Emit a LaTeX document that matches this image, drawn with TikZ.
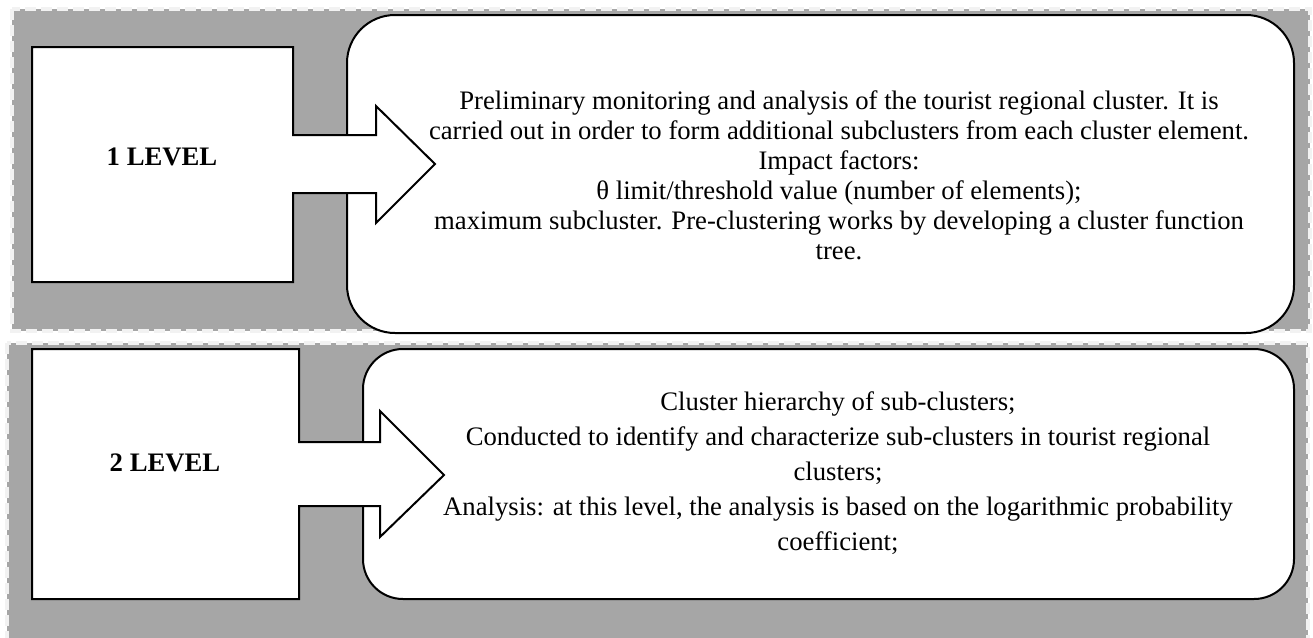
\documentclass[tikz,border=0pt]{standalone}
\usepackage{fontspec}
\setmainfont{Liberation Serif}
\begin{document}
\begin{tikzpicture}[x=1pt,y=-1pt,
  panel/.style={fill=panelgray,draw=dashgray,line width=3.5pt,dash pattern=on 11pt off 5pt},
  shapeline/.style={draw=black,fill=white,line width=2pt,line join=miter},
  body/.style={align=center,font=\fontsize{26.7}{30}\selectfont,inner sep=0pt},
  lvl/.style={font=\fontsize{26.7}{30}\selectfont\bfseries,inner sep=0pt}]
\definecolor{panelgray}{HTML}{A6A6A6}
\definecolor{dashgray}{HTML}{F2F2F2}
\useasboundingbox (0,0) rectangle (1313,637);
\begin{scope}
\clip (0,0) rectangle (1313,637);
% panels
\path[panel] (12,9) rectangle (1310,331);
\path[panel] (7,343) rectangle (1308,660);
% level 1
\draw[shapeline,rounded corners=48pt] (347,15) rectangle (1294,333);
\draw[shapeline] (32,47) -- (293,47) -- (293,135) -- (376,135) -- (376,106) -- (435,164)
  -- (376,223) -- (376,193) -- (293,193) -- (293,282) -- (32,282) -- cycle;
\node[lvl] (l1) at (162,157) {1 LEVEL};
\node[body] (t1) at (839,175) {Preliminary monitoring and analysis of the tourist regional cluster. It is\\
carried out in order to form additional subclusters from each cluster element.\\
Impact factors:\\
θ limit/threshold value (number of elements);\\
maximum subcluster. Pre-clustering works by developing a cluster function\\
tree.};
% level 2
\draw[shapeline,rounded corners=40pt] (363,349) rectangle (1294,599);
\draw[shapeline] (32,349) -- (299,349) -- (299,442) -- (380,442) -- (380,411) -- (444,475)
  -- (380,537) -- (380,506) -- (299,506) -- (299,599) -- (32,599) -- cycle;
\node[lvl] (l2) at (165,463) {2 LEVEL};
\node[body,font=\fontsize{26.7}{35}\selectfont] (t2) at (838,473) {Cluster hierarchy of sub-clusters;\\
Conducted to identify and characterize sub-clusters in tourist regional\\
clusters;\\
Analysis: at this level, the analysis is based on the logarithmic probability\\
coefficient;};
\end{scope}
\end{tikzpicture}
\end{document}
